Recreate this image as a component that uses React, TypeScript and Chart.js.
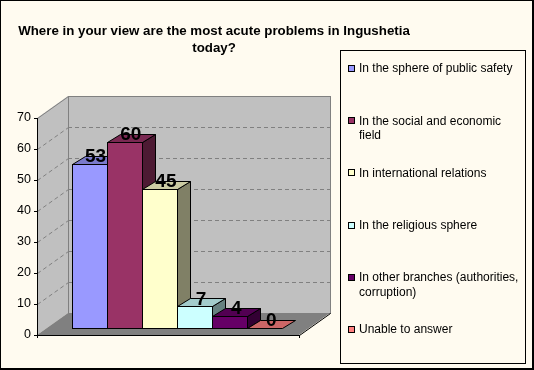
import { useEffect, useRef } from 'react';
import { Chart, registerables } from 'chart.js';

Chart.register(...registerables);

// ---- data ----
const categories = [
  'In the sphere of public safety',
  'In the social and economic field',
  'In international relations',
  'In the religious sphere',
  'In other branches (authorities, corruption)',
  'Unable to answer',
];
const values = [53, 60, 45, 7, 4, 0];
const colors = ['#9999FF', '#993366', '#FFFFCC', '#CCFFFF', '#660066', '#FF8080'];
const titleLines = ['Where in your view are the most acute problems in Ingushetia', 'today?'];
const yTickValues = [0, 10, 20, 30, 40, 50, 60, 70];

// ---- style constants ----
const FONT = '"Liberation Sans", Arial, Helvetica, sans-serif';
const BG = '#FFFBF0';
const DX = 31;
const DY = -22;
const FRONT = 0.3;
const BACK = 0.7;

function shade(hex: string, k: number) {
  const n = parseInt(hex.slice(1), 16);
  const r = Math.round(((n >> 16) & 255) * k);
  const g = Math.round(((n >> 8) & 255) * k);
  const b = Math.round((n & 255) * k);
  return `rgb(${r},${g},${b})`;
}

const sx = (v: number) => Math.round(v) + 0.5;

function poly(ctx: CanvasRenderingContext2D, pts: number[][], fill: string | null, stroke: string | null) {
  ctx.beginPath();
  pts.forEach((p, i) => (i === 0 ? ctx.moveTo(p[0], p[1]) : ctx.lineTo(p[0], p[1])));
  ctx.closePath();
  if (fill) {
    ctx.fillStyle = fill;
    ctx.fill();
  }
  if (stroke) {
    ctx.strokeStyle = stroke;
    ctx.lineWidth = 1;
    ctx.stroke();
  }
}

function wrap(ctx: CanvasRenderingContext2D, text: string, maxW: number) {
  const words = text.split(' ');
  const lines: string[] = [];
  let cur = '';
  for (const w of words) {
    const t = cur ? cur + ' ' + w : w;
    if (ctx.measureText(t).width > maxW && cur) {
      lines.push(cur);
      cur = w;
    } else cur = t;
  }
  if (cur) lines.push(cur);
  return lines;
}

const excel3d = {
  id: 'excel3d',
  beforeDraw(chart: any) {
    const { ctx, chartArea: a, scales } = chart;
    const y = scales.y;
    const L = a.left;
    const R = a.right;
    const T = y.getPixelForValue(y.max);
    const Bt = y.getPixelForValue(0);
    ctx.save();
    ctx.fillStyle = BG;
    ctx.fillRect(0, 0, chart.width, chart.height);

    // back wall
    ctx.fillStyle = '#C0C0C0';
    ctx.fillRect(L + DX, T + DY, R - L, Bt - T);
    // side wall
    poly(ctx, [[L, T], [L + DX, T + DY], [L + DX, Bt + DY], [L, Bt]], '#C0C0C0', null);
    // floor
    poly(ctx, [[L, Bt], [R, Bt], [R + DX, Bt + DY], [L + DX, Bt + DY]], '#808080', null);

    // gridlines
    ctx.strokeStyle = '#808080';
    ctx.lineWidth = 1;
    ctx.setLineDash([4, 3]);
    y.ticks.forEach((t: any) => {
      if (t.value <= 0 || t.value >= y.max) return;
      const py = Math.round(y.getPixelForValue(t.value));
      ctx.beginPath();
      ctx.moveTo(L + DX, py + DY + 0.5);
      ctx.lineTo(R + DX, py + DY + 0.5);
      ctx.stroke();
      ctx.beginPath();
      ctx.moveTo(L + 0.5, py + 0.5);
      ctx.lineTo(L + DX + 0.5, py + DY + 0.5);
      ctx.stroke();
    });
    ctx.setLineDash([]);

    // wall edges
    ctx.strokeStyle = '#808080';
    ctx.strokeRect(sx(L + DX), sx(T + DY), R - L, Bt - T);
    ctx.beginPath();
    ctx.moveTo(L + 0.5, T + 0.5);
    ctx.lineTo(L + DX + 0.5, T + DY + 0.5);
    ctx.stroke();
    // floor right edge
    ctx.strokeStyle = '#000';
    ctx.beginPath();
    ctx.moveTo(R + 0.5, Bt + 0.5);
    ctx.lineTo(R + DX + 0.5, Bt + DY + 0.5);
    ctx.stroke();
    ctx.restore();
  },
  beforeDatasetDraw() {
    return false;
  },
  afterDatasetsDraw(chart: any) {
    const { ctx } = chart;
    ctx.save();
    chart.data.datasets.forEach((ds: any, i: number) => {
      const meta = chart.getDatasetMeta(i);
      const el = meta.data[0];
      const p = el.getProps(['x', 'y', 'base', 'width'], true);
      const x1 = Math.round(p.x - p.width / 2);
      const x2 = Math.round(p.x + p.width / 2);
      const yt = Math.round(p.y);
      const yb = Math.round(p.base);
      const fx = Math.round(DX * FRONT), fy = Math.round(DY * FRONT);
      const bx = Math.round(DX * BACK), by = Math.round(DY * BACK);
      const c = ds.backgroundColor;
      const o = 0.5;
      // side
      if (yb > yt) {
        poly(ctx, [[x2 + fx + o, yt + fy + o], [x2 + bx + o, yt + by + o], [x2 + bx + o, yb + by + o], [x2 + fx + o, yb + fy + o]], shade(c, 0.5), '#000');
      }
      // top
      poly(ctx, [[x1 + fx + o, yt + fy + o], [x2 + fx + o, yt + fy + o], [x2 + bx + o, yt + by + o], [x1 + bx + o, yt + by + o]], shade(c, 0.8), '#000');
      // front
      if (yb > yt) {
        ctx.fillStyle = c;
        ctx.fillRect(x1 + fx, yt + fy, x2 - x1, yb - yt);
        ctx.strokeStyle = '#000';
        ctx.lineWidth = 1;
        ctx.strokeRect(x1 + fx + o, yt + fy + o, x2 - x1, yb - yt);
      }
    });
    // value labels
    ctx.fillStyle = '#000';
    ctx.font = `bold 19px ${FONT}`;
    ctx.textAlign = 'center';
    ctx.textBaseline = 'alphabetic';
    chart.data.datasets.forEach((ds: any, i: number) => {
      const el = chart.getDatasetMeta(i).data[0];
      const p = el.getProps(['x', 'y'], true);
      ctx.fillText(String(ds.data[0]), p.x + DX * 0.5, p.y + DY * FRONT - 2);
    });
    ctx.restore();
  },
  afterDraw(chart: any) {
    const { ctx } = chart;
    ctx.save();
    // title
    ctx.fillStyle = '#000';
    ctx.font = `bold 13.3px ${FONT}`;
    ctx.textAlign = 'center';
    ctx.textBaseline = 'alphabetic';
    titleLines.forEach((t, i) => ctx.fillText(t, 214, 35 + i * 17));

    // legend
    const lx = 340, ly = 50, lw = 185, lh = 313;
    ctx.strokeStyle = '#000';
    ctx.lineWidth = 1;
    ctx.strokeRect(lx + 0.5, ly + 0.5, lw, lh);
    ctx.font = `12px ${FONT}`;
    ctx.textAlign = 'left';
    ctx.textBaseline = 'middle';
    chart.data.datasets.forEach((ds: any, i: number) => {
      const cy = ly + 19 + i * 52.2;
      ctx.fillStyle = ds.backgroundColor;
      ctx.fillRect(lx + 8, Math.round(cy) - 4, 7, 7);
      ctx.strokeStyle = '#000';
      ctx.strokeRect(lx + 8.5, Math.round(cy) - 3.5, 6, 6);
      ctx.fillStyle = '#000';
      const lines = wrap(ctx, ds.label, 163);
      lines.forEach((ln, j) => ctx.fillText(ln, lx + 19, cy + j * 14.5));
    });

    // outer border
    ctx.fillStyle = '#000';
    ctx.fillRect(0, 0, chart.width, 1);
    ctx.fillRect(0, 0, 1, chart.height);
    ctx.fillRect(chart.width - 2, 0, 2, chart.height);
    ctx.fillRect(0, chart.height - 2, chart.width, 2);
    ctx.restore();
  },
};

export default function App() {
  const ref = useRef<HTMLCanvasElement | null>(null);
  useEffect(() => {
    if (!ref.current) return;
    const chart = new Chart(ref.current, {
      type: 'bar',
      data: {
        labels: [''],
        datasets: categories.map((label, i) => ({
          label,
          data: [values[i]],
          backgroundColor: colors[i],
          borderColor: '#000',
          borderWidth: 1,
          categoryPercentage: 0.805,
          barPercentage: 1,
        })),
      },
      options: {
        responsive: false,
        devicePixelRatio: 1,
        animation: false,
        events: [],
        layout: { padding: { left: 0, right: 235, top: 118, bottom: 35 } },
        plugins: {
          legend: { display: false },
          title: { display: false },
          tooltip: { enabled: false },
        },
        scales: {
          x: {
            type: 'category',
            offset: true,
            afterFit: (s: any) => {
              s.height = 0;
            },
            ticks: { display: false },
            grid: { display: true, drawOnChartArea: false, drawTicks: true, tickLength: 3, color: '#000', offset: true },
            border: { display: true, color: '#000' },
          },
          y: {
            min: yTickValues[0],
            max: yTickValues[yTickValues.length - 1],
            afterFit: (s: any) => {
              s.width = 37;
            },
            ticks: {
              stepSize: yTickValues[1] - yTickValues[0],
              color: '#000',
              padding: 3,
              font: { family: FONT, size: 12.5 },
            },
            grid: { display: true, drawOnChartArea: false, drawTicks: true, tickLength: 3, color: '#000' },
            border: { display: true, color: '#000' },
          },
        },
      },
      plugins: [excel3d],
    });
    return () => chart.destroy();
  }, []);
  return (
    <div style={{ position: 'fixed', left: 0, top: 0, width: 534, height: 370 }}>
      <canvas ref={ref} width={534} height={370} style={{ display: 'block' }} />
    </div>
  );
}
